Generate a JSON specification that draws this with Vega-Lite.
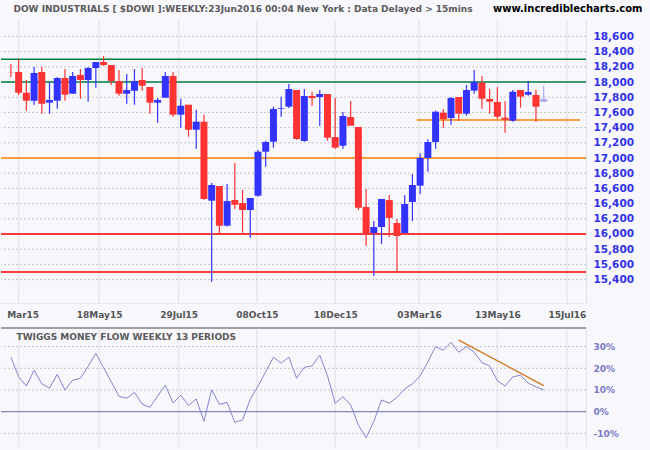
{
  "$schema": "https://vega.github.io/schema/vega-lite/v6.json",
  "width": 585,
  "height": 450,
  "padding": {"left": 0, "top": 0, "right": 9, "bottom": 0},
  "autosize": {"type": "pad"},
  "background": "#f7f7fc",
  "config": {
    "view": {"stroke": null},
    "axis": {"labelFont": "DejaVu Sans", "titleFont": "DejaVu Sans", "ticks": false, "labelOverlap": false, "labelBound": false}
  },
  "datasets": {
    "weeks": [
      {"date": "2015-02-27", "open": 18130, "high": 18237, "low": 18062, "close": 18125, "tmf": 25.1},
      {"date": "2015-03-06", "open": 18132, "high": 18299, "low": 17829, "close": 17859, "tmf": 16.1},
      {"date": "2015-03-13", "open": 17859, "high": 18026, "low": 17622, "close": 17754, "tmf": 11.8},
      {"date": "2015-03-20", "open": 17754, "high": 18197, "low": 17701, "close": 18118, "tmf": 19.1},
      {"date": "2015-03-27", "open": 18132, "high": 18197, "low": 17583, "close": 17714, "tmf": 12.8},
      {"date": "2015-04-03", "open": 17728, "high": 17996, "low": 17583, "close": 17763, "tmf": 10.9},
      {"date": "2015-04-10", "open": 17754, "high": 18066, "low": 17649, "close": 18053, "tmf": 17.2},
      {"date": "2015-04-17", "open": 18053, "high": 18171, "low": 17754, "close": 17833, "tmf": 10.0},
      {"date": "2015-04-24", "open": 17846, "high": 18132, "low": 17846, "close": 18079, "tmf": 14.5},
      {"date": "2015-05-01", "open": 18092, "high": 18171, "low": 17780, "close": 18026, "tmf": 15.4},
      {"date": "2015-05-08", "open": 18026, "high": 18197, "low": 17741, "close": 18184, "tmf": 20.9},
      {"date": "2015-05-15", "open": 18184, "high": 18263, "low": 17925, "close": 18263, "tmf": 26.9},
      {"date": "2015-05-22", "open": 18263, "high": 18342, "low": 18211, "close": 18224, "tmf": 20.3},
      {"date": "2015-05-29", "open": 18224, "high": 18224, "low": 17961, "close": 18013, "tmf": 13.8},
      {"date": "2015-06-05", "open": 18013, "high": 18158, "low": 17820, "close": 17846, "tmf": 7.1},
      {"date": "2015-06-12", "open": 17846, "high": 18105, "low": 17714, "close": 17895, "tmf": 6.2},
      {"date": "2015-06-19", "open": 17885, "high": 18171, "low": 17701, "close": 18013, "tmf": 8.9},
      {"date": "2015-06-26", "open": 18026, "high": 18184, "low": 17885, "close": 17951, "tmf": 3.5},
      {"date": "2015-07-03", "open": 17934, "high": 17934, "low": 17583, "close": 17728, "tmf": 2.0},
      {"date": "2015-07-10", "open": 17728, "high": 17789, "low": 17464, "close": 17763, "tmf": 7.2},
      {"date": "2015-07-17", "open": 17793, "high": 18132, "low": 17793, "close": 18079, "tmf": 12.2},
      {"date": "2015-07-24", "open": 18079, "high": 18132, "low": 17543, "close": 17570, "tmf": 4.0},
      {"date": "2015-07-31", "open": 17570, "high": 17780, "low": 17399, "close": 17688, "tmf": 7.6},
      {"date": "2015-08-07", "open": 17701, "high": 17701, "low": 17280, "close": 17372, "tmf": 2.9},
      {"date": "2015-08-14", "open": 17372, "high": 17636, "low": 17122, "close": 17478, "tmf": 5.9},
      {"date": "2015-08-21", "open": 17478, "high": 17570, "low": 16450, "close": 16461, "tmf": -4.4},
      {"date": "2015-08-28", "open": 16438, "high": 16671, "low": 15372, "close": 16645, "tmf": 10.1},
      {"date": "2015-09-04", "open": 16632, "high": 16632, "low": 15996, "close": 16109, "tmf": 3.4},
      {"date": "2015-09-11", "open": 16109, "high": 16658, "low": 16100, "close": 16433, "tmf": 4.3},
      {"date": "2015-09-18", "open": 16447, "high": 16934, "low": 16329, "close": 16385, "tmf": -4.9},
      {"date": "2015-09-25", "open": 16408, "high": 16579, "low": 16017, "close": 16316, "tmf": -3.8},
      {"date": "2015-10-02", "open": 16316, "high": 16474, "low": 15951, "close": 16474, "tmf": 5.7},
      {"date": "2015-10-09", "open": 16504, "high": 17105, "low": 16490, "close": 17083, "tmf": 11.8},
      {"date": "2015-10-16", "open": 17083, "high": 17228, "low": 16886, "close": 17211, "tmf": 18.4},
      {"date": "2015-10-23", "open": 17214, "high": 17675, "low": 17136, "close": 17645, "tmf": 25.1},
      {"date": "2015-10-30", "open": 17649, "high": 17807, "low": 17543, "close": 17658, "tmf": 22.4},
      {"date": "2015-11-06", "open": 17675, "high": 17974, "low": 17658, "close": 17908, "tmf": 25.1},
      {"date": "2015-11-13", "open": 17895, "high": 17895, "low": 17240, "close": 17250, "tmf": 15.4},
      {"date": "2015-11-20", "open": 17224, "high": 17908, "low": 17214, "close": 17816, "tmf": 20.5},
      {"date": "2015-11-27", "open": 17816, "high": 17868, "low": 17684, "close": 17789, "tmf": 21.1},
      {"date": "2015-12-04", "open": 17803, "high": 17895, "low": 17421, "close": 17842, "tmf": 26.1},
      {"date": "2015-12-11", "open": 17842, "high": 17842, "low": 17228, "close": 17267, "tmf": 16.5},
      {"date": "2015-12-18", "open": 17276, "high": 17789, "low": 17122, "close": 17136, "tmf": 3.9},
      {"date": "2015-12-25", "open": 17162, "high": 17605, "low": 17122, "close": 17553, "tmf": 6.9},
      {"date": "2016-01-01", "open": 17539, "high": 17750, "low": 17425, "close": 17425, "tmf": 3.1},
      {"date": "2016-01-08", "open": 17408, "high": 17408, "low": 16316, "close": 16346, "tmf": -6.1},
      {"date": "2016-01-15", "open": 16355, "high": 16592, "low": 15842, "close": 15996, "tmf": -12.0},
      {"date": "2016-01-22", "open": 16013, "high": 16171, "low": 15447, "close": 16092, "tmf": -4.5},
      {"date": "2016-01-29", "open": 16092, "high": 16461, "low": 15868, "close": 16461, "tmf": 5.4},
      {"date": "2016-02-05", "open": 16447, "high": 16513, "low": 15961, "close": 16211, "tmf": 3.9},
      {"date": "2016-02-12", "open": 16145, "high": 16197, "low": 15513, "close": 15974, "tmf": 6.6},
      {"date": "2016-02-19", "open": 16013, "high": 16513, "low": 16013, "close": 16395, "tmf": 10.5},
      {"date": "2016-02-26", "open": 16421, "high": 16789, "low": 16171, "close": 16645, "tmf": 12.8},
      {"date": "2016-03-04", "open": 16636, "high": 17062, "low": 16522, "close": 17000, "tmf": 16.5},
      {"date": "2016-03-11", "open": 17000, "high": 17246, "low": 16820, "close": 17211, "tmf": 23.0},
      {"date": "2016-03-18", "open": 17211, "high": 17623, "low": 17122, "close": 17609, "tmf": 30.0},
      {"date": "2016-03-25", "open": 17596, "high": 17645, "low": 17399, "close": 17513, "tmf": 28.3},
      {"date": "2016-04-01", "open": 17526, "high": 17803, "low": 17438, "close": 17789, "tmf": 32.0},
      {"date": "2016-04-08", "open": 17803, "high": 17803, "low": 17491, "close": 17583, "tmf": 27.4},
      {"date": "2016-04-15", "open": 17583, "high": 17961, "low": 17557, "close": 17895, "tmf": 30.0},
      {"date": "2016-04-22", "open": 17886, "high": 18158, "low": 17846, "close": 18000, "tmf": 27.4},
      {"date": "2016-04-29", "open": 17991, "high": 18079, "low": 17649, "close": 17780, "tmf": 22.6},
      {"date": "2016-05-06", "open": 17776, "high": 17908, "low": 17583, "close": 17741, "tmf": 21.1},
      {"date": "2016-05-13", "open": 17737, "high": 17934, "low": 17517, "close": 17544, "tmf": 14.3},
      {"date": "2016-05-20", "open": 17530, "high": 17750, "low": 17333, "close": 17504, "tmf": 11.8},
      {"date": "2016-05-27", "open": 17491, "high": 17895, "low": 17478, "close": 17872, "tmf": 16.1},
      {"date": "2016-06-03", "open": 17895, "high": 17895, "low": 17662, "close": 17807, "tmf": 16.8},
      {"date": "2016-06-10", "open": 17833, "high": 18013, "low": 17820, "close": 17868, "tmf": 13.1},
      {"date": "2016-06-17", "open": 17829, "high": 17895, "low": 17478, "close": 17675, "tmf": 11.5},
      {"date": "2016-06-24", "open": 17741, "high": 17947, "low": 17741, "close": 17776, "tmf": 10.0, "status": "partial"}
    ],
    "ticks": [
      {"date": "2015-03-06"}, {"date": "2015-05-18"}, {"date": "2015-07-29"}, {"date": "2015-10-08"},
      {"date": "2015-12-18"}, {"date": "2016-03-03"}, {"date": "2016-05-13"}, {"date": "2016-07-15"}
    ],
    "priceGrid": [
      {"price": 15400}, {"price": 15600}, {"price": 15800}, {"price": 16000}, {"price": 16200}, {"price": 16400},
      {"price": 16600}, {"price": 16800}, {"price": 17000}, {"price": 17200}, {"price": 17400}, {"price": 17600},
      {"price": 17800}, {"price": 18000}, {"price": 18200}, {"price": 18400}, {"price": 18600}
    ],
    "tmfGrid": [{"level": -10}, {"level": 10}, {"level": 20}, {"level": 30}],
    "levels": [
      {"price": 18300, "kind": "resistance"},
      {"price": 18000, "kind": "resistance"},
      {"price": 17000, "kind": "target"},
      {"price": 16000, "kind": "support"},
      {"price": 15500, "kind": "support"}
    ],
    "segments": [
      {"price": 17500, "kind": "target", "from": "2016-03-01", "to": "2016-07-27"}
    ],
    "trend": [
      {"date": "2016-04-08", "tmf": 33.0},
      {"date": "2016-06-24", "tmf": 12.0}
    ]
  },
  "layer": [
    {
      "layer": [
        {
          "data": {"name": "ticks"},
          "mark": {"type": "rule", "color": "#e6e6ec", "strokeWidth": 1.5},
          "encoding": {
            "x": {"field": "date", "type": "temporal", "scale": {"type": "utc", "domain": [{"year": 2015, "month": 2, "date": 22, "hours": 13, "utc": true}, {"year": 2016, "month": 7, "date": 27, "hours": 20, "utc": true}]}},
            "y": {"datum": 18816, "type": "quantitative", "scale": {"domain": [15092, 18816], "range": [303, 20], "nice": false, "zero": false}},
            "y2": {"datum": 15092}
          }
        },
        {
          "data": {"name": "priceGrid"},
          "mark": {"type": "rule", "color": "#c4c4cc", "strokeWidth": 1, "strokeDash": [2, 2]},
          "encoding": {
            "y": {"field": "price", "type": "quantitative", "scale": {"domain": [15092, 18816], "range": [303, 20], "nice": false, "zero": false}}
          }
        },
        {
          "data": {"name": "levels"},
          "mark": {"type": "rule", "strokeWidth": 1.5},
          "encoding": {
            "y": {"field": "price", "type": "quantitative", "scale": {"domain": [15092, 18816], "range": [303, 20], "nice": false, "zero": false}},
            "color": {"field": "kind", "type": "nominal", "scale": {"domain": ["resistance", "target", "support"], "range": ["#008040", "#ff8000", "#ff0000"]}, "legend": null}
          }
        },
        {
          "data": {"name": "segments"},
          "mark": {"type": "rule", "strokeWidth": 1.5},
          "encoding": {
            "x": {"field": "from", "type": "temporal", "scale": {"type": "utc", "domain": [{"year": 2015, "month": 2, "date": 22, "hours": 13, "utc": true}, {"year": 2016, "month": 7, "date": 27, "hours": 20, "utc": true}]}},
            "x2": {"field": "to"},
            "y": {"field": "price", "type": "quantitative", "scale": {"domain": [15092, 18816], "range": [303, 20], "nice": false, "zero": false}},
            "color": {"field": "kind", "type": "nominal", "scale": {"domain": ["resistance", "target", "support"], "range": ["#008040", "#ff8000", "#ff0000"]}, "legend": null}
          }
        },
        {
          "data": {"name": "weeks"},
          "mark": {"type": "rule", "strokeWidth": 1.2},
          "encoding": {
            "x": {
              "field": "date", "type": "temporal",
              "scale": {"type": "utc", "domain": [{"year": 2015, "month": 2, "date": 22, "hours": 13, "utc": true}, {"year": 2016, "month": 7, "date": 27, "hours": 20, "utc": true}]},
              "axis": {
                "orient": "bottom", "offset": -147, "zindex": 1, "tickCount": 20,
                "values": [
                  {"year": 2015, "month": 3, "date": 6, "utc": true},
                  {"year": 2015, "month": 5, "date": 18, "utc": true},
                  {"year": 2015, "month": 7, "date": 29, "utc": true},
                  {"year": 2015, "month": 10, "date": 8, "utc": true},
                  {"year": 2015, "month": 12, "date": 18, "utc": true},
                  {"year": 2016, "month": 3, "date": 3, "utc": true},
                  {"year": 2016, "month": 5, "date": 13, "utc": true},
                  {"year": 2016, "month": 7, "date": 15, "utc": true}
                ],
                "labelExpr": "datum.index === 0 ? utcFormat(datum.value, '%b%y') : utcFormat(datum.value, '%d%b%y')",
                "labelOffset": {"condition": {"test": "datum.index === 0", "value": 4}, "value": 0},
                "labelFontSize": 9, "labelFontWeight": "bold", "labelColor": "#555555", "labelPadding": 7,
                "labelOverlap": false, "labelFlush": false,
                "grid": false, "domain": true, "domainColor": "#d8d8d8", "domainDash": [2, 2],
                "title": "www.incrediblecharts.com", "titleX": 641, "titleY": -295,
                "titleAlign": "right", "titleBaseline": "middle", "titleAngle": 0,
                "titleFontSize": 10, "titleFontWeight": "bold", "titleColor": "#000000"
              }
            },
            "y": {
              "field": "low", "type": "quantitative",
              "scale": {"domain": [15092, 18816], "range": [303, 20], "nice": false, "zero": false},
              "axis": {
                "orient": "right", "zindex": 1, "tickCount": 20,
                "values": [15400, 15600, 15800, 16000, 16200, 16400, 16600, 16800, 17000, 17200, 17400, 17600, 17800, 18000, 18200, 18400, 18600],
                "format": ",d", "labelOverlap": false, "labelFlush": false, "labelBound": false,
                "labelFontSize": 10.5, "labelFontWeight": "bold", "labelColor": "#3232e6", "labelPadding": 7,
                "grid": false,
                "domain": true, "domainColor": "#e2e2e8",
                "title": "DOW INDUSTRIALS [ $DOWI ]:WEEKLY:23Jun2016 00:04 New York : Data Delayed > 15mins",
                "titleAngle": 0, "titleX": -573, "titleY": 8, "titleAlign": "left", "titleBaseline": "middle",
                "titleFontSize": 9, "titleFontWeight": "bold", "titleColor": "#5a5a5a"
              }
            },
            "y2": {"field": "high"},
            "color": {"condition": [{"test": "datum.status === 'partial'", "value": "#a9a9f2"}, {"test": "datum.close >= datum.open", "value": "#3333ff"}], "value": "#ff3333"}
          }
        },
        {
          "data": {"name": "weeks"},
          "mark": {"type": "bar", "width": 7},
          "encoding": {
            "x": {"field": "date", "type": "temporal", "scale": {"type": "utc", "domain": [{"year": 2015, "month": 2, "date": 22, "hours": 13, "utc": true}, {"year": 2016, "month": 7, "date": 27, "hours": 20, "utc": true}]}},
            "y": {"field": "open", "type": "quantitative", "scale": {"domain": [15092, 18816], "range": [303, 20], "nice": false, "zero": false}},
            "y2": {"field": "close"},
            "color": {"condition": [{"test": "datum.status === 'partial'", "value": "#a9a9f2"}, {"test": "datum.close >= datum.open", "value": "#3333ff"}], "value": "#ff3333"}
          }
        }
      ]
    },
    {
      "layer": [
        {
          "data": {"name": "ticks"},
          "mark": {"type": "rule", "color": "#e6e6ec", "strokeWidth": 1.5},
          "encoding": {
            "x": {"field": "date", "type": "temporal", "scale": {"type": "utc", "domain": [{"year": 2015, "month": 2, "date": 22, "hours": 13, "utc": true}, {"year": 2016, "month": 7, "date": 27, "hours": 20, "utc": true}]}},
            "y": {"datum": 37.65, "type": "quantitative", "scale": {"domain": [-16.27, 38.57], "range": [447, 328], "nice": false, "zero": false}},
            "y2": {"datum": -16.27}
          }
        },
        {
          "data": {"name": "tmfGrid"},
          "mark": {"type": "rule", "color": "#c4c4cc", "strokeWidth": 1, "strokeDash": [2, 2]},
          "encoding": {
            "y": {"field": "level", "type": "quantitative", "scale": {"domain": [-16.27, 38.57], "range": [447, 328], "nice": false, "zero": false}}
          }
        },
        {
          "data": {"values": [{"level": 38.57}]},
          "mark": {"type": "rule", "color": "#a0a0a0", "strokeWidth": 2},
          "encoding": {
            "y": {"field": "level", "type": "quantitative", "scale": {"domain": [-16.27, 38.57], "range": [447, 328], "nice": false, "zero": false}}
          }
        },
        {
          "data": {"values": [{"level": 0}]},
          "mark": {"type": "rule", "color": "#6a6aaa", "strokeWidth": 1},
          "encoding": {
            "y": {"field": "level", "type": "quantitative", "scale": {"domain": [-16.27, 38.57], "range": [447, 328], "nice": false, "zero": false}}
          }
        },
        {
          "data": {"name": "weeks"},
          "mark": {"type": "line", "color": "#8585cc", "strokeWidth": 1},
          "encoding": {
            "x": {"field": "date", "type": "temporal", "scale": {"type": "utc", "domain": [{"year": 2015, "month": 2, "date": 22, "hours": 13, "utc": true}, {"year": 2016, "month": 7, "date": 27, "hours": 20, "utc": true}]}},
            "y": {
              "field": "tmf", "type": "quantitative",
              "scale": {"domain": [-16.27, 38.57], "range": [447, 328], "nice": false, "zero": false},
              "axis": {
                "orient": "right", "zindex": 1, "tickCount": 10,
                "values": [-10, 0, 10, 20, 30],
                "labelExpr": "datum.value + '%'", "labelOverlap": false, "labelFlush": false,
                "labelFontSize": 9, "labelFontWeight": "bold", "labelColor": "#7a7ac4", "labelPadding": 7,
                "grid": false,
                "domain": true, "domainColor": "#e2e2e8",
                "title": "TWIGGS MONEY FLOW WEEKLY 13 PERIODS",
                "titleAngle": 0, "titleX": -570, "titleY": 336, "titleAlign": "left", "titleBaseline": "middle",
                "titleFontSize": 9, "titleFontWeight": "bold", "titleColor": "#5a5a5a"
              }
            }
          }
        },
        {
          "data": {"name": "trend"},
          "mark": {"type": "line", "color": "#d2781e", "strokeWidth": 1.3},
          "encoding": {
            "x": {"field": "date", "type": "temporal", "scale": {"type": "utc", "domain": [{"year": 2015, "month": 2, "date": 22, "hours": 13, "utc": true}, {"year": 2016, "month": 7, "date": 27, "hours": 20, "utc": true}]}},
            "y": {"field": "tmf", "type": "quantitative", "scale": {"domain": [-16.27, 38.57], "range": [447, 328], "nice": false, "zero": false}}
          }
        }
      ]
    }
  ],
  "resolve": {"scale": {"y": "independent"}, "axis": {"y": "independent"}}
}
